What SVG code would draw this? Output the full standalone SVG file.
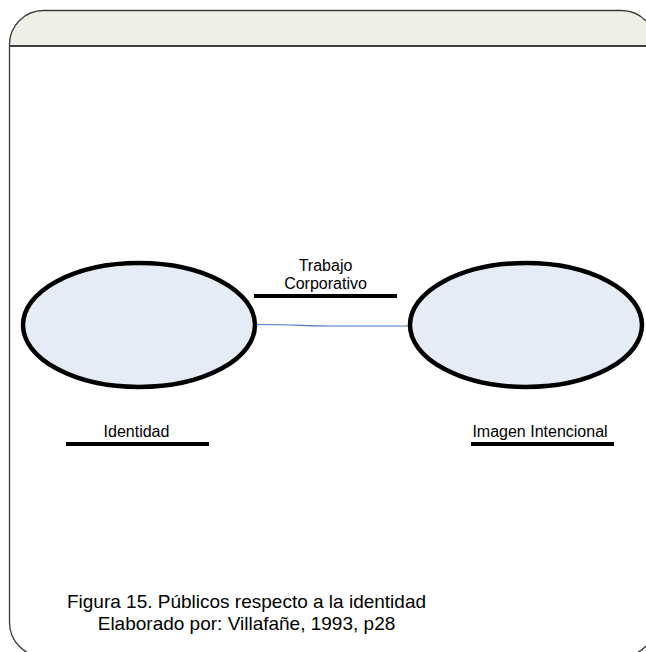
<svg xmlns="http://www.w3.org/2000/svg" width="646" height="652" viewBox="0 0 646 652">
  <defs>
    <linearGradient id="headerFill" x1="0" y1="0" x2="0" y2="1">
      <stop offset="0" stop-color="#eeefe7"/>
      <stop offset="1" stop-color="#fafaf8"/>
    </linearGradient>
    <clipPath id="headerClip">
      <rect x="0" y="0" width="700" height="46"/>
    </clipPath>
    <style>
      .frame { fill: none; stroke: #3a3a3a; stroke-width: 1.3; }
      .node { fill: #e6ecf6; stroke: #000; stroke-width: 4.5; }
      .bar { stroke: #000; stroke-width: 4; }
      .label { font-family: "Liberation Sans", Arial, sans-serif; font-size: 16px; fill: #000; text-anchor: middle; }
      .caption { font-family: "Liberation Sans", Arial, sans-serif; font-size: 19px; fill: #000; text-anchor: middle; }
      .link { fill: none; stroke: #4677c4; stroke-width: 1.2; }
    </style>
  </defs>

  <rect width="646" height="652" fill="#fff"/>

  <!-- panel frame with shaded header band -->
  <g id="frame">
    <rect x="9.5" y="10.5" width="646" height="646" rx="34" ry="34" fill="url(#headerFill)" clip-path="url(#headerClip)"/>
    <rect x="9.5" y="10.5" width="646" height="646" rx="34" ry="34" class="frame"/>
    <line x1="9" y1="46" x2="646" y2="46" stroke="#404040" stroke-width="1.8"/>
  </g>

  <!-- connectors -->
  <g id="connectors">
    <path class="link" d="M 255 324.5 C 300 324.5, 300 326, 330 326 L 410 326"/>
  </g>

  <g id="identidad">
    <ellipse class="node" cx="139" cy="325" rx="116" ry="62"/>
    <text class="label" x="136.5" y="437">Identidad</text>
    <line class="bar" x1="66" y1="444" x2="209" y2="444"/>
  </g>

  <g id="imagen-intencional">
    <ellipse class="node" cx="526" cy="325" rx="116" ry="62"/>
    <text class="label" x="540" y="437">Imagen Intencional</text>
    <line class="bar" x1="471" y1="444" x2="614" y2="444"/>
  </g>

  <g id="trabajo-corporativo">
    <text class="label" x="325.5" y="271">Trabajo</text>
    <text class="label" x="325.5" y="289">Corporativo</text>
    <line class="bar" x1="254" y1="296" x2="397" y2="296"/>
  </g>

  <g id="caption">
    <text class="caption" x="246.5" y="608">Figura 15. Públicos respecto a la identidad</text>
    <text class="caption" x="246.5" y="630">Elaborado por: Villafañe, 1993, p28</text>
  </g>
</svg>
